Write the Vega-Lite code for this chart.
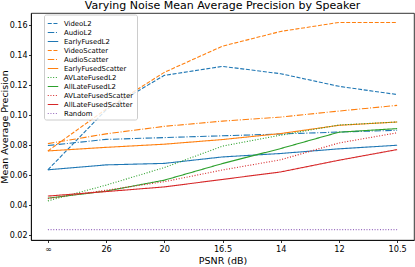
{
  "$schema": "https://vega.github.io/schema/vega-lite/v6.json",
  "width": 383,
  "height": 227,
  "autosize": "none",
  "padding": {"left": 31, "top": 13, "right": 1, "bottom": 27},
  "title": {"text": "Varying Noise Mean Average Precision by Speaker", "fontSize": 11, "fontWeight": "normal", "font": "DejaVu Sans", "color": "black", "anchor": "middle", "frame": "group", "baseline": "bottom", "offset": 1.5, "dy": 10.5},
  "datasets": {
    "rows": [
      {"series": "VideoL2", "psnr": "∞", "map": 0.0635},
      {"series": "VideoL2", "psnr": "26", "map": 0.1035},
      {"series": "VideoL2", "psnr": "20", "map": 0.1265},
      {"series": "VideoL2", "psnr": "16.5", "map": 0.1325},
      {"series": "VideoL2", "psnr": "14", "map": 0.1276},
      {"series": "VideoL2", "psnr": "12", "map": 0.1192},
      {"series": "VideoL2", "psnr": "10.5", "map": 0.1137},
      {"series": "AudioL2", "psnr": "∞", "map": 0.0797},
      {"series": "AudioL2", "psnr": "26", "map": 0.0838},
      {"series": "AudioL2", "psnr": "20", "map": 0.0850},
      {"series": "AudioL2", "psnr": "16.5", "map": 0.0862},
      {"series": "AudioL2", "psnr": "14", "map": 0.0874},
      {"series": "AudioL2", "psnr": "12", "map": 0.0887},
      {"series": "AudioL2", "psnr": "10.5", "map": 0.0899},
      {"series": "EarlyFusedL2", "psnr": "∞", "map": 0.0635},
      {"series": "EarlyFusedL2", "psnr": "26", "map": 0.0668},
      {"series": "EarlyFusedL2", "psnr": "20", "map": 0.0678},
      {"series": "EarlyFusedL2", "psnr": "16.5", "map": 0.0721},
      {"series": "EarlyFusedL2", "psnr": "14", "map": 0.0744},
      {"series": "EarlyFusedL2", "psnr": "12", "map": 0.0775},
      {"series": "EarlyFusedL2", "psnr": "10.5", "map": 0.0799},
      {"series": "VideoScatter", "psnr": "∞", "map": 0.0761},
      {"series": "VideoScatter", "psnr": "26", "map": 0.1040},
      {"series": "VideoScatter", "psnr": "20", "map": 0.1285},
      {"series": "VideoScatter", "psnr": "16.5", "map": 0.1460},
      {"series": "VideoScatter", "psnr": "14", "map": 0.1558},
      {"series": "VideoScatter", "psnr": "12", "map": 0.1618},
      {"series": "VideoScatter", "psnr": "10.5", "map": 0.1618},
      {"series": "AudioScatter", "psnr": "∞", "map": 0.0810},
      {"series": "AudioScatter", "psnr": "26", "map": 0.0875},
      {"series": "AudioScatter", "psnr": "20", "map": 0.0925},
      {"series": "AudioScatter", "psnr": "16.5", "map": 0.0960},
      {"series": "AudioScatter", "psnr": "14", "map": 0.0987},
      {"series": "AudioScatter", "psnr": "12", "map": 0.1027},
      {"series": "AudioScatter", "psnr": "10.5", "map": 0.1065},
      {"series": "EarlyFusedScatter", "psnr": "∞", "map": 0.0761},
      {"series": "EarlyFusedScatter", "psnr": "26", "map": 0.0785},
      {"series": "EarlyFusedScatter", "psnr": "20", "map": 0.0806},
      {"series": "EarlyFusedScatter", "psnr": "16.5", "map": 0.0837},
      {"series": "EarlyFusedScatter", "psnr": "14", "map": 0.0877},
      {"series": "EarlyFusedScatter", "psnr": "12", "map": 0.0932},
      {"series": "EarlyFusedScatter", "psnr": "10.5", "map": 0.0954},
      {"series": "AVLateFusedL2", "psnr": "∞", "map": 0.0428},
      {"series": "AVLateFusedL2", "psnr": "26", "map": 0.0533},
      {"series": "AVLateFusedL2", "psnr": "20", "map": 0.0650},
      {"series": "AVLateFusedL2", "psnr": "16.5", "map": 0.0793},
      {"series": "AVLateFusedL2", "psnr": "14", "map": 0.0866},
      {"series": "AVLateFusedL2", "psnr": "12", "map": 0.0934},
      {"series": "AVLateFusedL2", "psnr": "10.5", "map": 0.0954},
      {"series": "AllLateFusedL2", "psnr": "∞", "map": 0.0446},
      {"series": "AllLateFusedL2", "psnr": "26", "map": 0.0493},
      {"series": "AllLateFusedL2", "psnr": "20", "map": 0.0566},
      {"series": "AllLateFusedL2", "psnr": "16.5", "map": 0.0677},
      {"series": "AllLateFusedL2", "psnr": "14", "map": 0.0777},
      {"series": "AllLateFusedL2", "psnr": "12", "map": 0.0886},
      {"series": "AllLateFusedL2", "psnr": "10.5", "map": 0.0910},
      {"series": "AVLateFusedScatter", "psnr": "∞", "map": 0.0443},
      {"series": "AVLateFusedScatter", "psnr": "26", "map": 0.0499},
      {"series": "AVLateFusedScatter", "psnr": "20", "map": 0.0556},
      {"series": "AVLateFusedScatter", "psnr": "16.5", "map": 0.0634},
      {"series": "AVLateFusedScatter", "psnr": "14", "map": 0.0702},
      {"series": "AVLateFusedScatter", "psnr": "12", "map": 0.0814},
      {"series": "AVLateFusedScatter", "psnr": "10.5", "map": 0.0882},
      {"series": "AllLateFusedScatter", "psnr": "∞", "map": 0.0460},
      {"series": "AllLateFusedScatter", "psnr": "26", "map": 0.0490},
      {"series": "AllLateFusedScatter", "psnr": "20", "map": 0.0521},
      {"series": "AllLateFusedScatter", "psnr": "16.5", "map": 0.0571},
      {"series": "AllLateFusedScatter", "psnr": "14", "map": 0.0621},
      {"series": "AllLateFusedScatter", "psnr": "12", "map": 0.0699},
      {"series": "AllLateFusedScatter", "psnr": "10.5", "map": 0.0770},
      {"series": "Random", "psnr": "∞", "map": 0.0236},
      {"series": "Random", "psnr": "26", "map": 0.0236},
      {"series": "Random", "psnr": "20", "map": 0.0236},
      {"series": "Random", "psnr": "16.5", "map": 0.0236},
      {"series": "Random", "psnr": "14", "map": 0.0236},
      {"series": "Random", "psnr": "12", "map": 0.0236},
      {"series": "Random", "psnr": "10.5", "map": 0.0236}
    ]
  },
  "data": {"name": "rows"},
  "mark": {"type": "line", "strokeWidth": 1.1, "clip": true},
  "encoding": {
    "x": {
      "field": "psnr", "type": "ordinal",
      "scale": {"type": "point", "domain": ["∞", "26", "20", "16.5", "14", "12", "10.5"], "padding": 0.29},
      "axis": {"title": "PSNR (dB)", "labelAngle": 0, "labelFontSize": 8.2, "labelPadding": 2.5, "titleFontSize": 9.5, "titlePadding": 3}
    },
    "y": {
      "field": "map", "type": "quantitative",
      "scale": {"domain": [0.0167, 0.1681], "nice": false, "zero": false},
      "axis": {"title": "Mean Average Precision", "values": [0.02, 0.04, 0.06, 0.08, 0.1, 0.12, 0.14, 0.16], "format": ".2f", "labelFontSize": 8, "labelPadding": 1.5, "titleFontSize": 9.5, "titlePadding": 0}
    },
    "color": {
      "field": "series", "type": "nominal",
      "scale": {
        "domain": ["VideoL2", "AudioL2", "EarlyFusedL2", "VideoScatter", "AudioScatter", "EarlyFusedScatter", "AVLateFusedL2", "AllLateFusedL2", "AVLateFusedScatter", "AllLateFusedScatter", "Random"],
        "range": ["#1f77b4", "#1f77b4", "#1f77b4", "#ff7f0e", "#ff7f0e", "#ff7f0e", "#2ca02c", "#2ca02c", "#d62728", "#d62728", "#9467bd"]
      },
      "legend": {"title": null, "orient": "none", "legendX": 13, "legendY": 1.5}
    },
    "strokeDash": {
      "field": "series", "type": "nominal",
      "scale": {
        "domain": ["VideoL2", "AudioL2", "EarlyFusedL2", "VideoScatter", "AudioScatter", "EarlyFusedScatter", "AVLateFusedL2", "AllLateFusedL2", "AVLateFusedScatter", "AllLateFusedScatter", "Random"],
        "range": [[4, 1.7], [6.5, 1.7, 1, 1.7], [1, 0], [4, 1.7], [6.5, 1.7, 1, 1.7], [1, 0], [1, 1.7], [1, 0], [1, 1.7], [1, 0], [1, 1.7]]
      },
      "legend": {"title": null, "orient": "none", "legendX": 13, "legendY": 1.5}
    }
  },
  "config": {
    "font": "DejaVu Sans",
    "view": {"stroke": "black", "strokeWidth": 0.8},
    "axis": {"grid": false, "domainColor": "black", "domainWidth": 0.8, "tickColor": "black", "tickWidth": 0.8, "tickSize": 2.5, "labelColor": "black", "titleColor": "black", "titleFontWeight": "normal", "labelFont": "DejaVu Sans", "titleFont": "DejaVu Sans"},
    "legend": {"symbolType": "stroke", "symbolSize": 110, "symbolStrokeWidth": 1.1, "labelFontSize": 6.9, "labelFont": "DejaVu Sans", "labelColor": "black", "labelOffset": 5, "rowPadding": 0, "padding": 3, "fillColor": "rgba(255,255,255,0.8)", "strokeColor": "#cccccc", "cornerRadius": 2, "labelLimit": 200}
  }
}
